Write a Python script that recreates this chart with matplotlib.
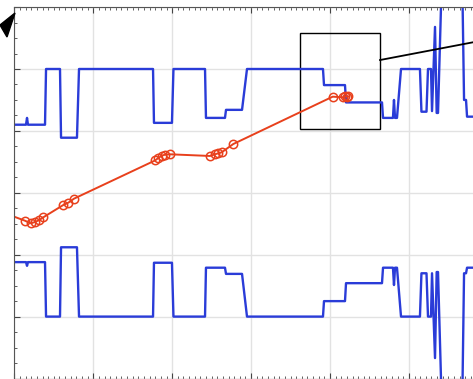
import matplotlib
matplotlib.use("Agg")
import matplotlib.pyplot as plt
from matplotlib.ticker import MultipleLocator, AutoMinorLocator
from matplotlib.patches import Rectangle, Polygon

# Step traces (shared x), upper and lower
step_x = [-0.05, 0.147, 0.16, 0.172, 0.388, 0.401, 0.578, 0.591, 0.793, 0.819,
          1.757, 1.769, 1.997, 2.016, 2.416, 2.428, 2.669, 2.682, 2.885, 2.948,
          3.911, 3.924, 4.19, 4.203, 4.659, 4.672, 4.798, 4.811, 4.824, 4.849,
          4.9, 5.14, 5.159, 5.223, 5.242, 5.28, 5.293, 5.331, 5.352, 5.369,
          5.42, 5.674, 5.699, 5.724, 5.737, 6.028]
upper_y = [4.10, 4.10, 4.21, 4.10, 4.10, 5.0, 5.0, 3.89, 3.89, 5.0,
           5.0, 4.13, 4.13, 5.0, 5.0, 4.21, 4.21, 4.34, 4.34, 5.0,
           5.0, 4.74, 4.74, 4.46, 4.46, 4.21, 4.21, 4.50, 4.21, 4.21,
           5.0, 5.0, 4.31, 4.31, 5.0, 5.0, 4.32, 5.68, 4.29, 4.29,
           6.6, 6.6, 4.50, 4.50, 4.23, 4.23]
lower_y = [1.88, 1.88, 1.82, 1.88, 1.88, 1.0, 1.0, 2.12, 2.12, 1.0,
           1.0, 1.87, 1.87, 1.0, 1.0, 1.79, 1.79, 1.69, 1.69, 1.0,
           1.0, 1.25, 1.25, 1.54, 1.54, 1.79, 1.79, 1.51, 1.79, 1.79,
           1.0, 1.0, 1.70, 1.70, 1.0, 1.0, 1.70, 0.33, 1.72, 1.72,
           -0.6, -0.6, 1.70, 1.70, 1.79, 1.79]

# Red trajectory with markers
red_x = [-0.081, 0.134, 0.207, 0.261, 0.316, 0.366, 0.620, 0.683, 0.755,
         1.782, 1.824, 1.867, 1.909, 1.972, 2.479, 2.542, 2.584, 2.627, 2.774,
         4.034, 4.169, 4.196, 4.219, 4.234]
red_y = [2.651, 2.549, 2.507, 2.528, 2.561, 2.604, 2.803, 2.840, 2.905,
         3.522, 3.562, 3.599, 3.616, 3.622, 3.595, 3.622, 3.638, 3.654, 3.788,
         4.553, 4.543, 4.556, 4.553, 4.556]

BLUE = "#2a3cd8"
RED = "#e8401c"

fig = plt.figure(figsize=(4.73, 3.79), dpi=100)
ax = fig.add_axes([14.4 / 473, 0.5 / 379, 473.4 / 473, 371.4 / 379])

ax.plot(step_x, upper_y, color=BLUE, lw=1.7)
ax.plot(step_x, lower_y, color=BLUE, lw=1.7)
ax.plot(red_x, red_y, color=RED, lw=1.4, marker="o", markersize=6,
        markerfacecolor="none", markeredgecolor=RED, markeredgewidth=1.1)

# zoom box and connector
ax.add_patch(Rectangle((3.62, 4.03), 1.01, 1.55, fill=False, ec="black", lw=1.0))
ax.plot([4.634, 6.3], [5.145, 5.55], color="black", lw=1.3, clip_on=False)

ax.set_xlim(0, 6)
ax.set_ylim(0, 6)
ax.xaxis.set_major_locator(MultipleLocator(1))
ax.yaxis.set_major_locator(MultipleLocator(1))
ax.xaxis.set_minor_locator(AutoMinorLocator(14))
ax.yaxis.set_minor_locator(AutoMinorLocator(4))
ax.grid(True, which="major", color="#e2e2e2", lw=1.0)
ax.set_axisbelow(True)
ax.tick_params(which="both", direction="in", top=True, right=True,
               labelbottom=False, labelleft=False, color="#444444")
ax.tick_params(which="major", length=4, width=0.8)
ax.tick_params(which="minor", length=2.5, width=0.6)
for s in ax.spines.values():
    s.set_color("#555555")
    s.set_linewidth(0.8)

# arrow head at the top-left corner
pts = [(15, 13), (0, 25), (7, 37)]
tri = Polygon([(px / 473, 1 - py / 379) for px, py in pts], closed=True,
              facecolor="black", edgecolor="black", transform=fig.transFigure)
fig.patches.append(tri)

fig.savefig("out.png", dpi=100)
